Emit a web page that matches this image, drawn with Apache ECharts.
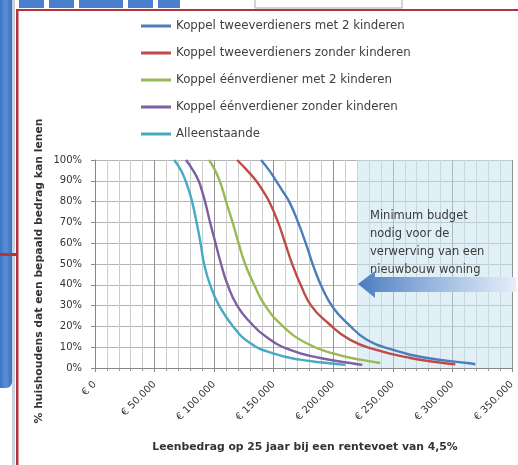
<!DOCTYPE html>
<html>
<head>
<meta charset="utf-8">
<script src="https://cdn.jsdelivr.net/npm/echarts@6/dist/echarts.min.js"></script>
<style>
  html, body { margin: 0; padding: 0; background: #fff; }
  #chart { width: 518px; height: 465px; }
</style>
</head>
<body>
<div id="chart"></div>
<script>
// Household types (legend order)
const householdTypes = [
  'Koppel tweeverdieners met 2 kinderen',
  'Koppel tweeverdieners zonder kinderen',
  'Koppel éénverdiener met 2 kinderen',
  'Koppel éénverdiener zonder kinderen',
  'Alleenstaande'
];

// [loan amount in €, % of households that can borrow it]
const tweeverdienersMetKinderen = [
  [139400, 100], [146200, 95], [152000, 90], [157500, 85], [163000, 80],
  [170500, 70], [178100, 58], [183500, 48.6], [191500, 37.5], [199900, 29],
  [211700, 21.6], [228500, 13.5], [250300, 8.7], [278900, 4.8], [312500, 2.4],
  [319200, 1.8]
];
const tweeverdienersZonderKinderen = [
  [119300, 100], [127700, 95], [135200, 90], [141100, 85], [146200, 80],
  [153700, 70], [159600, 60], [165500, 50], [172600, 40], [181400, 30],
  [194900, 22], [214200, 13.5], [236900, 8.6], [264600, 4.8], [292300, 2.4],
  [302400, 1.8]
];
const eenverdienerMetKinderen = [
  [95800, 100], [100800, 95], [104600, 90], [107500, 85], [110000, 80],
  [115500, 70], [120500, 60], [126000, 50], [133600, 40], [142800, 30],
  [157900, 20], [177200, 12], [199900, 7], [222600, 4], [239400, 2.4]
];
const eenverdienerZonderKinderen = [
  [76400, 100], [82300, 95], [86900, 90], [89900, 85], [92400, 80],
  [96600, 70], [101200, 60], [105800, 50], [111300, 40], [119300, 30],
  [130200, 22], [143600, 15], [163800, 8.7], [189000, 4.8], [214200, 2.4],
  [224300, 1.5]
];
const alleenstaande = [
  [66400, 100], [72200, 95], [76000, 90], [79000, 85], [81500, 80],
  [85300, 70], [88600, 60], [91600, 50], [96600, 40], [104200, 30],
  [115900, 20], [130200, 12], [149500, 7], [172200, 4], [194900, 2.4],
  [210000, 1.5]
];

const seriesData = [
  tweeverdienersMetKinderen,
  tweeverdienersZonderKinderen,
  eenverdienerMetKinderen,
  eenverdienerZonderKinderen,
  alleenstaande
];
const seriesColors = ['#4A7EBB', '#BE4B48', '#98B954', '#7D60A0', '#46AAC5'];

// Axis ticks
const xTickLabels = ['€ 0', '€ 50.000', '€ 100.000', '€ 150.000', '€ 200.000', '€ 250.000', '€ 300.000', '€ 350.000'];
const xTickStep = 50000;
const yTickLabels = ['0%', '10%', '20%', '30%', '40%', '50%', '60%', '70%', '80%', '90%', '100%'];
const yTickStep = 10;

// Range of loan amounts needed for a new-build home
const minimumBudgetRange = [220000, 350000];

const xTitle = 'Leenbedrag op 25 jaar bij een rentevoet van 4,5%';
const yTitle = '% huishoudens dat een bepaald bedrag kan lenen';
const noteText = 'Minimum budget\nnodig voor de\nverwerving van een\nnieuwbouw woning';

const FONT = '"DejaVu Sans", Verdana, sans-serif';

const chart = echarts.init(document.getElementById('chart'), null, { renderer: 'canvas' });

const series = householdTypes.map((name, i) => ({
  name,
  type: 'line',
  data: seriesData[i],
  smooth: 0.5,
  symbol: 'none',
  z: 3,
  lineStyle: { color: seriesColors[i], width: 2.4 },
  itemStyle: { color: seriesColors[i] }
}));

// shaded "minimum budget" zone behind the curves
series[0].markArea = {
  silent: true,
  itemStyle: { color: 'rgba(196,224,239,0.5)' },
  data: [[{ xAxis: minimumBudgetRange[0], yAxis: 0 }, { xAxis: minimumBudgetRange[1], yAxis: 100 }]]
};

// page decorations around the figure frame
const decorations = [];
decorations.push({ type: 'rect', shape: { x: 0, y: 0, width: 12, height: 388, r: [0, 0, 6, 0] },
  style: { fill: new echarts.graphic.LinearGradient(0, 0, 1, 0, [
    { offset: 0, color: '#3f74c4' }, { offset: 0.5, color: '#5a8fd6' }, { offset: 1, color: '#3c6fbf' }]) }, z: 1 });
decorations.push({ type: 'rect', shape: { x: 12, y: 0, width: 3, height: 465 }, style: { fill: '#c9d3e0' }, z: 1 });
[[19, 44], [49, 74], [79, 104], [99, 123], [128, 153], [158, 180]].forEach(b => {
  decorations.push({ type: 'rect', shape: { x: b[0], y: 0, width: b[1] - b[0], height: 8 }, style: { fill: '#4a7fcd' }, z: 1 });
});
decorations.push({ type: 'rect', shape: { x: 255, y: -2, width: 147, height: 10 }, style: { fill: '#fff', stroke: '#a9a9a9', lineWidth: 1 }, z: 1 });
decorations.push({ type: 'rect', shape: { x: 16, y: 9, width: 502, height: 2 }, style: { fill: '#b0343c' }, z: 2 });
decorations.push({ type: 'rect', shape: { x: 16, y: 9, width: 2.5, height: 456 }, style: { fill: '#b0343c' }, z: 2 });
decorations.push({ type: 'rect', shape: { x: 0, y: 253, width: 17, height: 3 }, style: { fill: '#b0343c' }, z: 2 });

const annotations = [
  { type: 'text', x: 370, y: 207, z: 10,
    style: { text: noteText, font: '11.5px ' + FONT, fill: '#3a3a3a', lineHeight: 18 } },
  { type: 'polygon', z: 20,
    shape: { points: [[358, 284], [375, 271], [375, 277], [516, 277], [516, 292], [375, 292], [375, 298]] },
    style: { fill: new echarts.graphic.LinearGradient(0, 0, 1, 0, [
      { offset: 0, color: '#4a7cc0' }, { offset: 0.35, color: '#86a9d8' }, { offset: 1, color: '#e6eef8' }]) } },
  { type: 'text', x: 305, y: 447, z: 10,
    style: { text: xTitle, font: 'bold 10.8px ' + FONT, fill: '#333', align: 'center', verticalAlign: 'middle' } },
  { type: 'text', x: 39, y: 271, rotation: Math.PI / 2, z: 10,
    style: { text: yTitle, font: 'bold 10.8px ' + FONT, fill: '#333', align: 'center', verticalAlign: 'middle' } }
];

chart.setOption({
  backgroundColor: '#fff',
  animation: false,
  textStyle: { fontFamily: FONT },
  grid: { left: 95, right: 6, top: 160, bottom: 97, containLabel: false },
  legend: {
    data: householdTypes,
    orient: 'vertical',
    left: 136,
    top: 14,
    icon: 'rect',
    itemWidth: 30,
    itemHeight: 3,
    itemGap: 13,
    textStyle: { fontSize: 11.8, color: '#404040', lineHeight: 14, fontFamily: FONT }
  },
  xAxis: {
    type: 'value',
    min: 0,
    max: 350000,
    interval: xTickStep,
    axisLine: { show: true, lineStyle: { color: '#888', width: 1 } },
    axisTick: { show: true, length: 4, lineStyle: { color: '#888' } },
    minorTick: { show: true, splitNumber: 5, length: 3, lineStyle: { color: '#999' } },
    splitLine: { show: true, lineStyle: { color: '#929292', width: 1 } },
    minorSplitLine: { show: true, lineStyle: { color: '#cdcdcd', width: 1 } },
    axisLabel: {
      rotate: 45, margin: 15, fontSize: 10, color: '#333', fontFamily: FONT,
      formatter: v => xTickLabels[Math.round(v / xTickStep)]
    }
  },
  yAxis: {
    type: 'value',
    min: 0,
    max: 100,
    interval: yTickStep,
    axisLine: { show: true, lineStyle: { color: '#888', width: 1 } },
    axisTick: { show: true, length: 4, lineStyle: { color: '#888' } },
    splitLine: { show: true, lineStyle: { color: '#b5b5b5', width: 1 } },
    axisLabel: {
      margin: 13, fontSize: 10, color: '#333', fontFamily: FONT,
      formatter: v => yTickLabels[Math.round(v / yTickStep)]
    }
  },
  series,
  graphic: decorations.concat(annotations)
});
</script>
</body>
</html>
